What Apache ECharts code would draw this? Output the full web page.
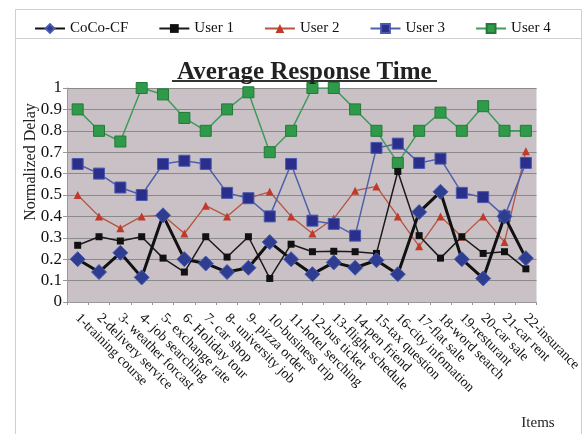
<!DOCTYPE html>
<html>
<head>
<meta charset="utf-8">
<script src="https://cdn.jsdelivr.net/npm/echarts@6/dist/echarts.min.js"></script>
<style>html,body{margin:0;padding:0;background:#fff}#c{width:584px;height:434px}</style>
</head>
<body>
<div id="c"></div>
<script>
const categories = ['1-training course','2-delivery service','3- weather forcast','4- job searching','5- exchange rate','6- Holiday tour','7- car shop','8- university job','9- pizza order','10-business trip','11-hotel serching','12-bus ticket','13-flight schedule','14-pen friend','15-tax question','16-city infomation','17-flat sale','18-word search','19-resturant','20-car sale','21-car rent','22-insurance'];
const cocoCF = [0.20,0.14,0.23,0.115,0.405,0.20,0.18,0.14,0.16,0.28,0.20,0.13,0.185,0.16,0.195,0.13,0.42,0.515,0.20,0.11,0.40,0.205];
const user1 = [0.265,0.305,0.285,0.305,0.205,0.14,0.305,0.21,0.305,0.11,0.27,0.235,0.237,0.235,0.227,0.61,0.31,0.205,0.305,0.227,0.235,0.155];
const user2 = [0.50,0.40,0.345,0.40,0.405,0.32,0.45,0.40,0.485,0.515,0.40,0.32,0.39,0.52,0.54,0.40,0.26,0.40,0.305,0.40,0.28,0.705];
const user3 = [0.645,0.60,0.535,0.50,0.645,0.66,0.645,0.51,0.485,0.40,0.645,0.38,0.365,0.31,0.72,0.74,0.65,0.67,0.51,0.49,0.40,0.65];
const user4 = [0.90,0.80,0.75,1.0,0.97,0.86,0.80,0.90,0.98,0.70,0.80,1.0,1.0,0.90,0.80,0.65,0.80,0.885,0.80,0.915,0.80,0.80];
const yTicks = [0,0.1,0.2,0.3,0.4,0.5,0.6,0.7,0.8,0.9,1];

const FONT = "'Liberation Serif','Times New Roman',serif";
const chart = echarts.init(document.getElementById('c'));
chart.setOption({
  animation: false,
  textStyle: {fontFamily: FONT},
  title: {
    text: 'Average Response Time',
    left: 172, top: 55,
    textStyle: {fontFamily: FONT, fontSize: 25, fontWeight: 'bold', color: '#222'}
  },
  legend: {
    left: 29, top: 16,
    itemWidth: 30, itemHeight: 11, itemGap: 30,
    textStyle: {fontFamily: FONT, fontSize: 15, color: '#111'},
    data: ['CoCo-CF','User 1','User 2','User 3','User 4']
  },
  graphic: [
    {type: 'rect', shape: {x: 15.5, y: 9.5, width: 566, height: 440}, style: {fill: 'none', stroke: '#cfcfcf', lineWidth: 1}, silent: true},
    {type: 'line', shape: {x1: 15.5, y1: 38.5, x2: 581.5, y2: 38.5}, style: {stroke: '#cfcfcf', lineWidth: 1}, silent: true},
    {type: 'line', shape: {x1: 172, y1: 81, x2: 437, y2: 81}, style: {stroke: '#333', lineWidth: 2}, silent: true},
    {type: 'text', x: 31, y: 162, rotation: Math.PI / 2, style: {text: 'Normalized Delay', font: '16px ' + FONT, fill: '#222', align: 'center', verticalAlign: 'middle'}, silent: true},
    {type: 'text', x: 538, y: 423, style: {text: 'Items', font: '15px ' + FONT, fill: '#222', align: 'center', verticalAlign: 'middle'}, silent: true}
  ],
  grid: {left: 67, right: 45, top: 88, bottom: 132, show: true, backgroundColor: '#c9c1c5', borderWidth: 0},
  xAxis: {
    type: 'category',
    data: categories,
    boundaryGap: true,
    axisLine: {lineStyle: {color: '#999'}},
    axisTick: {show: true, alignWithLabel: false, length: 3, lineStyle: {color: '#999'}},
    axisLabel: {rotate: -45, interval: 0, fontFamily: FONT, fontSize: 14, color: '#111', margin: 14}
  },
  yAxis: {
    type: 'value', min: 0, max: 1, interval: 0.1,
    axisLine: {show: true, lineStyle: {color: '#999'}},
    axisTick: {show: true, length: 4, lineStyle: {color: '#999'}},
    axisLabel: {fontFamily: FONT, fontSize: 17, color: '#111', margin: 5,
      formatter: v => { const t = yTicks.find(x => Math.abs(x - v) < 1e-6); return String(t !== undefined ? t : v); }},
    splitLine: {show: true, lineStyle: {color: '#8a8a8a', width: 1}}
  },
  series: [
    {name: 'CoCo-CF', type: 'line', data: cocoCF, z: 6, symbol: 'diamond', symbolSize: 15,
      lineStyle: {color: '#111', width: 3}, itemStyle: {color: '#2f3d91', borderColor: '#4a5ab0', borderWidth: 1}},
    {name: 'User 1', type: 'line', data: user1, z: 4, symbol: 'rect', symbolSize: 7,
      lineStyle: {color: '#1a1a1a', width: 1.5}, itemStyle: {color: '#111'}},
    {name: 'User 2', type: 'line', data: user2, z: 3, symbol: 'triangle', symbolSize: 8,
      lineStyle: {color: '#b5553f', width: 1.3}, itemStyle: {color: '#c0392b'}},
    {name: 'User 3', type: 'line', data: user3, z: 3, symbol: 'rect', symbolSize: 11,
      lineStyle: {color: '#5060a8', width: 1.5}, itemStyle: {color: '#2b2f8c', borderColor: '#4a58b0', borderWidth: 1}},
    {name: 'User 4', type: 'line', data: user4, z: 3, symbol: 'rect', symbolSize: 11,
      lineStyle: {color: '#3f9a5c', width: 1.5}, itemStyle: {color: '#2f9a4a', borderColor: '#237a38', borderWidth: 1}}
  ]
});
</script>
</body>
</html>
